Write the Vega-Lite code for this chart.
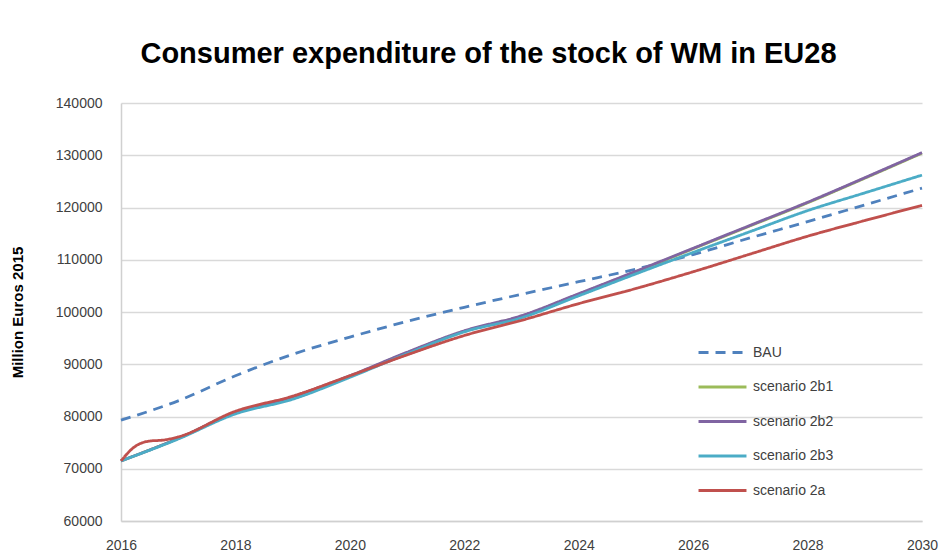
{
  "$schema": "https://vega.github.io/schema/vega-lite/v6.json",
  "width": 801,
  "height": 418,
  "autosize": {"type": "none"},
  "padding": {"left": 121, "top": 103, "right": 25, "bottom": 34},
  "background": "white",
  "title": {
    "text": "Consumer expenditure of the stock of WM in EU28",
    "font": "Liberation Sans",
    "fontSize": 29,
    "fontWeight": "bold",
    "color": "#000000",
    "anchor": "middle",
    "dx": -33,
    "offset": 27
  },
  "config": {
    "view": {"stroke": null},
    "axis": {"labelFont": "Liberation Sans", "titleFont": "Liberation Sans"},
    "legend": {"labelFont": "Liberation Sans"}
  },
  "data": {
    "values": [
      {"year": 2016, "series": "BAU", "value": 79300},
      {"year": 2017, "series": "BAU", "value": 83000},
      {"year": 2018, "series": "BAU", "value": 87800},
      {"year": 2019, "series": "BAU", "value": 91900},
      {"year": 2020, "series": "BAU", "value": 95200},
      {"year": 2021, "series": "BAU", "value": 98200},
      {"year": 2022, "series": "BAU", "value": 100900},
      {"year": 2023, "series": "BAU", "value": 103400},
      {"year": 2024, "series": "BAU", "value": 105800},
      {"year": 2025, "series": "BAU", "value": 108200},
      {"year": 2026, "series": "BAU", "value": 111000},
      {"year": 2027, "series": "BAU", "value": 114200},
      {"year": 2028, "series": "BAU", "value": 117300},
      {"year": 2029, "series": "BAU", "value": 120500},
      {"year": 2030, "series": "BAU", "value": 123700},

      {"year": 2016, "series": "scenario 2b1", "value": 71500},
      {"year": 2017, "series": "scenario 2b1", "value": 75800},
      {"year": 2018, "series": "scenario 2b1", "value": 80700},
      {"year": 2019, "series": "scenario 2b1", "value": 83700},
      {"year": 2020, "series": "scenario 2b1", "value": 87700},
      {"year": 2021, "series": "scenario 2b1", "value": 92200},
      {"year": 2022, "series": "scenario 2b1", "value": 96300},
      {"year": 2023, "series": "scenario 2b1", "value": 99200},
      {"year": 2024, "series": "scenario 2b1", "value": 103400},
      {"year": 2025, "series": "scenario 2b1", "value": 107700},
      {"year": 2026, "series": "scenario 2b1", "value": 112100},
      {"year": 2027, "series": "scenario 2b1", "value": 116500},
      {"year": 2028, "series": "scenario 2b1", "value": 120900},
      {"year": 2029, "series": "scenario 2b1", "value": 125600},
      {"year": 2030, "series": "scenario 2b1", "value": 130400},

      {"year": 2016, "series": "scenario 2b2", "value": 71500},
      {"year": 2017, "series": "scenario 2b2", "value": 75800},
      {"year": 2018, "series": "scenario 2b2", "value": 80800},
      {"year": 2019, "series": "scenario 2b2", "value": 83800},
      {"year": 2020, "series": "scenario 2b2", "value": 87800},
      {"year": 2021, "series": "scenario 2b2", "value": 92300},
      {"year": 2022, "series": "scenario 2b2", "value": 96400},
      {"year": 2023, "series": "scenario 2b2", "value": 99300},
      {"year": 2024, "series": "scenario 2b2", "value": 103500},
      {"year": 2025, "series": "scenario 2b2", "value": 107800},
      {"year": 2026, "series": "scenario 2b2", "value": 112200},
      {"year": 2027, "series": "scenario 2b2", "value": 116600},
      {"year": 2028, "series": "scenario 2b2", "value": 121000},
      {"year": 2029, "series": "scenario 2b2", "value": 125700},
      {"year": 2030, "series": "scenario 2b2", "value": 130500},

      {"year": 2016, "series": "scenario 2b3", "value": 71500},
      {"year": 2017, "series": "scenario 2b3", "value": 75700},
      {"year": 2018, "series": "scenario 2b3", "value": 80500},
      {"year": 2019, "series": "scenario 2b3", "value": 83300},
      {"year": 2020, "series": "scenario 2b3", "value": 87500},
      {"year": 2021, "series": "scenario 2b3", "value": 92000},
      {"year": 2022, "series": "scenario 2b3", "value": 96200},
      {"year": 2023, "series": "scenario 2b3", "value": 98900},
      {"year": 2024, "series": "scenario 2b3", "value": 103100},
      {"year": 2025, "series": "scenario 2b3", "value": 107300},
      {"year": 2026, "series": "scenario 2b3", "value": 111400},
      {"year": 2027, "series": "scenario 2b3", "value": 115400},
      {"year": 2028, "series": "scenario 2b3", "value": 119400},
      {"year": 2029, "series": "scenario 2b3", "value": 122800},
      {"year": 2030, "series": "scenario 2b3", "value": 126200},

      {"year": 2016, "series": "scenario 2a", "value": 71500},
      {"year": 2016.25, "series": "scenario 2a", "value": 74300},
      {"year": 2016.5, "series": "scenario 2a", "value": 75300},
      {"year": 2016.75, "series": "scenario 2a", "value": 75500},
      {"year": 2017, "series": "scenario 2a", "value": 76100},
      {"year": 2018, "series": "scenario 2a", "value": 81000},
      {"year": 2019, "series": "scenario 2a", "value": 83900},
      {"year": 2020, "series": "scenario 2a", "value": 87800},
      {"year": 2021, "series": "scenario 2a", "value": 91800},
      {"year": 2022, "series": "scenario 2a", "value": 95500},
      {"year": 2023, "series": "scenario 2a", "value": 98400},
      {"year": 2024, "series": "scenario 2a", "value": 101600},
      {"year": 2025, "series": "scenario 2a", "value": 104500},
      {"year": 2026, "series": "scenario 2a", "value": 107700},
      {"year": 2027, "series": "scenario 2a", "value": 111100},
      {"year": 2028, "series": "scenario 2a", "value": 114500},
      {"year": 2029, "series": "scenario 2a", "value": 117500},
      {"year": 2030, "series": "scenario 2a", "value": 120400}
    ]
  },
  "mark": {"type": "line", "interpolate": "monotone", "strokeWidth": 2.8},
  "encoding": {
    "x": {
      "field": "year",
      "type": "quantitative",
      "scale": {"domain": [2016, 2030], "nice": false, "zero": false},
      "axis": {
        "title": null,
        "values": [2016, 2018, 2020, 2022, 2024, 2026, 2028, 2030],
        "format": "d",
        "grid": false,
        "ticks": false,
        "domainColor": "#d0d0d0",
        "domainWidth": 1.5,
        "labelFontSize": 14,
        "labelColor": "#404040",
        "labelPadding": 17,
        "labelFlush": false
      }
    },
    "y": {
      "field": "value",
      "type": "quantitative",
      "scale": {"domain": [60000, 140000], "nice": false, "zero": false},
      "axis": {
        "title": "Million Euros  2015",
        "titleFontSize": 15,
        "titleFontWeight": "bold",
        "titleColor": "#000000",
        "titlePadding": 30,
        "values": [60000, 70000, 80000, 90000, 100000, 110000, 120000, 130000, 140000],
        "format": "d",
        "grid": true,
        "gridColor": "#d9d9d9",
        "gridWidth": 1.5,
        "ticks": false,
        "domainColor": "#d0d0d0",
        "domainWidth": 1.5,
        "labelFontSize": 14,
        "labelColor": "#404040",
        "labelPadding": 19
      }
    },
    "color": {
      "field": "series",
      "type": "nominal",
      "sort": ["BAU", "scenario 2b1", "scenario 2b2", "scenario 2b3", "scenario 2a"],
      "scale": {
        "domain": ["BAU", "scenario 2b1", "scenario 2b2", "scenario 2b3", "scenario 2a"],
        "range": ["#4F81BD", "#9BBB59", "#8064A2", "#4BACC6", "#C0504D"]
      },
      "legend": {
        "title": null,
        "orient": "none",
        "legendX": 576,
        "legendY": 224,
        "symbolType": "stroke",
        "symbolSize": 2300,
        "symbolStrokeWidth": 3,
        "labelFontSize": 14,
        "labelColor": "#404040",
        "labelOffset": 5,
        "rowPadding": 1.5
      }
    },
    "strokeDash": {
      "field": "series",
      "type": "nominal",
      "sort": ["BAU", "scenario 2b1", "scenario 2b2", "scenario 2b3", "scenario 2a"],
      "scale": {
        "domain": ["BAU", "scenario 2b1", "scenario 2b2", "scenario 2b3", "scenario 2a"],
        "range": [[10, 7], [1, 0], [1, 0], [1, 0], [1, 0]]
      },
      "legend": null
    },
    "order": {"field": "year", "type": "quantitative"}
  }
}
